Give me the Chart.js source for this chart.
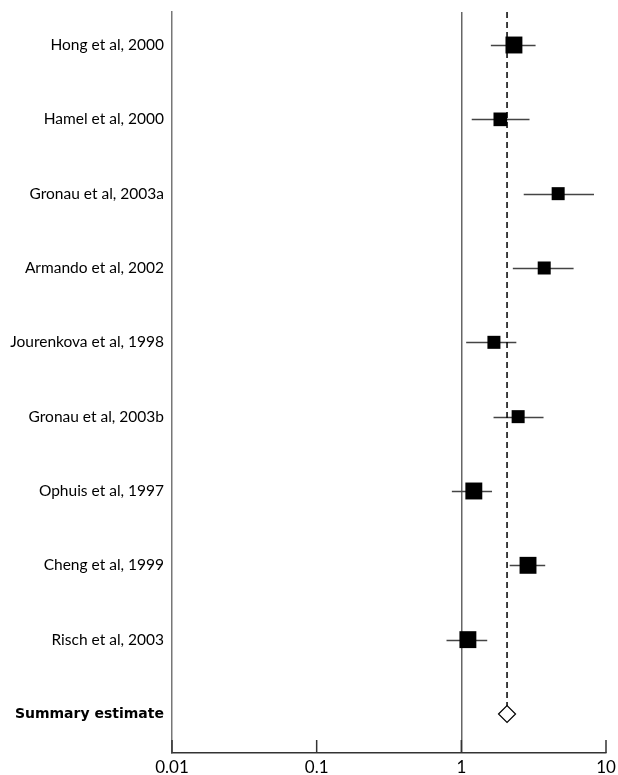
<!DOCTYPE html>
<html>
<head>
<meta charset="utf-8">
<script src="https://cdn.jsdelivr.net/npm/chart.js@4"></script>
<style>
    html, body { margin: 0; padding: 0; background: #fff; }
    #wrap { width: 618px; height: 775px; position: relative; }
</style>
</head>
<body>
<div id="wrap"><canvas id="grafik-forest"></canvas></div>
<script>
const studies = [
    "Hong et al, 2000",
    "Hamel et al, 2000",
    "Gronau et al, 2003a",
    "Armando et al, 2002",
    "Jourenkova et al, 1998",
    "Gronau et al, 2003b",
    "Ophuis et al, 1997",
    "Cheng et al, 1999",
    "Risch et al, 2003",
];
const estimates = [2.31, 1.86, 4.67, 3.74, 1.68, 2.47, 1.22, 2.89, 1.11];
const lower = [1.6, 1.18, 2.7, 2.27, 1.08, 1.67, 0.86, 2.16, 0.79];
const upper = [3.26, 2.96, 8.26, 5.97, 2.4, 3.7, 1.63, 3.8, 1.51];
const weights = [1.3, 1.05, 1, 1, 1, 1, 1.3, 1.3, 1.3];
const summaryLabel = "Summary estimate";
const summaryEstimate = 2.07;
const tickValues = [0.01, 0.1, 1, 10];
const tickLabels = ["0.01", "0.1", "1", "10"];

const rowLabels = [...studies, summaryLabel];
const summaryRow = studies.length;
const yMin = -0.444;
const yMax = summaryRow + 0.525;

// garis CI + tick ke dalam
const forestPlugin = {
    id: "forest",
    beforeDatasetsDraw(chart) {
        const { ctx, scales } = chart;
        const x = scales.x, y = scales.y;
        ctx.save();
        ctx.strokeStyle = "#444";
        ctx.lineWidth = 1.5;
        studies.forEach((s, i) => {
            const py = Math.round(y.getPixelForValue(i)) + 0.5;
            ctx.beginPath();
            ctx.moveTo(x.getPixelForValue(lower[i]), py);
            ctx.lineTo(x.getPixelForValue(upper[i]), py);
            ctx.stroke();
        });
        ctx.restore();
    },
    afterDraw(chart) {
        const { ctx, scales, chartArea } = chart;
        ctx.save();
        ctx.strokeStyle = "#333";
        ctx.lineWidth = 1.5;
        tickValues.forEach((v) => {
            const px = scales.x.getPixelForValue(v);
            ctx.beginPath();
            ctx.moveTo(px, chartArea.bottom);
            ctx.lineTo(px, chartArea.bottom - 13);
            ctx.stroke();
        });
        ctx.restore();
    },
};

const dataForest = {
    datasets: [
        {
            type: "scatter",
            label: "Summary",
            data: [{ x: summaryEstimate, y: summaryRow }],
            pointStyle: "rectRot",
            pointRadius: 8.5,
            backgroundColor: "#fff",
            borderColor: "#000",
            borderWidth: 1.2,
            order: 0,
        },
        {
            type: "scatter",
            label: "Studi",
            data: studies.map((s, i) => ({ x: estimates[i], y: i })),
            pointStyle: "rect",
            pointRadius: weights.map((w) => 9.2 * w),
            backgroundColor: "#000",
            borderWidth: 0,
            order: 1,
        },
        {
            type: "line",
            label: "Garis summary",
            data: [
                { x: summaryEstimate, y: yMin },
                { x: summaryEstimate, y: summaryRow },
            ],
            borderColor: "#000",
            borderWidth: 1.5,
            borderDash: [6, 4],
            pointRadius: 0,
            order: 2,
        },
    ],
};

new Chart(document.getElementById("grafik-forest"), {
    data: dataForest,
    options: {
        responsive: true,
        maintainAspectRatio: false,
        animation: false,
        layout: { padding: { top: 12, right: 12, left: 0, bottom: 0 } },
        plugins: {
            legend: { display: false },
            tooltip: { enabled: false },
        },
        scales: {
            x: {
                type: "logarithmic",
                min: 0.01,
                max: 10,
                afterBuildTicks: (scale) => {
                    scale.ticks = tickValues.map((v) => ({ value: v }));
                },
                afterFit: (scale) => {
                    scale.height = 22;
                    scale.paddingRight = 0;
                },
                ticks: {
                    padding: 4,
                    color: "#000",
                    font: { family: "Lato", size: 17 },
                    callback: (v) => tickLabels[tickValues.indexOf(v)],
                },
                grid: {
                    drawTicks: false,
                    lineWidth: 1.5,
                    color: (ctx) =>
                        ctx.tick && ctx.tick.value === 1 ? "#666" : "transparent",
                },
                border: { color: "#333", width: 1.5 },
            },
            y: {
                type: "linear",
                reverse: true,
                min: yMin,
                max: yMax,
                afterBuildTicks: (scale) => {
                    scale.ticks = rowLabels.map((l, i) => ({ value: i }));
                },
                afterFit: (scale) => {
                    scale.width = 172;
                    scale.paddingTop = 0;
                    scale.paddingBottom = 0;
                },
                ticks: {
                    padding: 8,
                    color: "#000",
                    font: (ctx) =>
                        ctx.tick && ctx.tick.value === summaryRow
                            ? { family: "DejaVu Sans", size: 14, weight: "bold" }
                            : { family: "Lato", size: 15.5, weight: "normal" },
                    callback: (v) => rowLabels[v],
                },
                grid: { drawOnChartArea: false, drawTicks: false },
                border: { color: "#777", width: 1.5 },
            },
        },
    },
    plugins: [forestPlugin],
});
</script>
</body>
</html>
